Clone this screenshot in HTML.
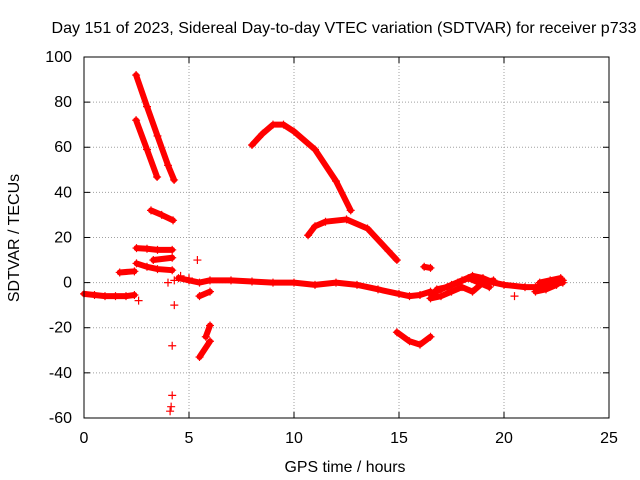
<!DOCTYPE html>
<html><head><meta charset="utf-8"><style>
html,body{margin:0;padding:0;background:#fff}
svg{display:block;font-family:"Liberation Sans",sans-serif}
</style></head><body>
<svg id="chart" width="640" height="480" viewBox="0 0 640 480">
<rect width="640" height="480" fill="#fff"/>
<text x="344" y="33" font-size="16" text-anchor="middle" textLength="585" lengthAdjust="spacingAndGlyphs" fill="#000">Day 151 of 2023, Sidereal Day-to-day VTEC variation (SDTVAR) for receiver p733</text>
<text x="345" y="472" font-size="16" text-anchor="middle" textLength="121" lengthAdjust="spacingAndGlyphs">GPS time / hours</text>
<text transform="translate(19,238) rotate(-90)" font-size="16" text-anchor="middle">SDTVAR / TECUs</text>
<g id="grid"></g>
<g id="ticks"></g>
<g id="marks"></g>
<rect x="84" y="57" width="525" height="361" fill="none" stroke="#000" stroke-width="1"/>
</svg>
<script>
const xTicks=[0,5,10,15,20,25];
const yTicks=[-60,-40,-20,0,20,40,60,80,100];
const tracks=[
[[0,-5],[0.5,-5.5],[1,-6],[1.5,-6],[2,-6],[2.4,-5.5]],
[[1.7,4.5],[2.4,5]],
[[2.48,92],[3,78],[3.5,65],[4,52],[4.29,45.5]],
[[2.48,72],[3,59],[3.48,46.8]],
[[3.19,32],[3.7,30],[4.24,27.6]],
[[2.5,15.3],[3,15],[3.5,14.5],[4.2,14.5]],
[[2.5,8.5],[3,7],[3.5,6],[4.2,5.5]],
[[3.3,10],[4.2,11]],
[[4.5,2],[5,1],[5.5,0],[6,1],[7,1],[8,0.5],[9,0],[10,0],[11,-1],[12,0],[13,-1],[14,-3],[15,-5],[15.5,-6],[16,-5.5],[16.5,-4]],
[[16.5,-5],[17,-3],[17.5,-1],[18,1],[18.5,3],[19,2],[19.5,0],[20,-1],[21,-2],[21.5,-2],[22,-1],[22.8,0]],
[[16.5,-7],[17,-6],[17.5,-4],[18,-2],[18.5,-4],[19,0],[19.5,1]],
[[16.8,-3],[17.3,-2],[17.8,0],[18.3,2],[18.8,0],[19.3,-2]],
[[21.5,-4],[22,-3],[22.5,-1],[22.8,1]],
[[21.7,0],[22.2,1],[22.7,2]],
[[8,61],[8.5,66],[9,70],[9.5,70],[10,67],[11,59],[12,45],[12.7,32]],
[[10.67,21],[11,25],[11.5,27],[12.5,28],[13.5,24],[14.5,14],[14.9,10]],
[[14.9,-22],[15.5,-26],[16,-27.5],[16.5,-24]],
[[16.2,7],[16.5,6.5]],
[[5.5,-33],[6,-26]],
[[5.8,-24],[6,-19]],
[[5.5,-6],[6,-4]]
];
const scatterT=[4.2,4.2,4.1,4.15,4.3,5.4,2.6,20.5,4,4.3,4.6,5];
const scatterV=[-28,-50,-57,-55,-10,10,-8,-6,0,1,3,2];
const X=t=>84+t*21, Y=v=>282.6-v*2.256;
const NS='http://www.w3.org/2000/svg';
const grid=document.getElementById('grid'),ticks=document.getElementById('ticks'),marks=document.getElementById('marks');
function mk(tag,attrs,parent){const e=document.createElementNS(NS,tag);for(const k in attrs)e.setAttribute(k,attrs[k]);parent.appendChild(e);return e;}
xTicks.forEach(t=>{
 if(t>0&&t<25){const g=mk('line',{x1:X(t),x2:X(t),y1:57,y2:418,stroke:'#a0a0a0','stroke-dasharray':'1,2'},grid);
 
 }
 mk('line',{x1:X(t),x2:X(t),y1:418,y2:412,stroke:'#000'},ticks);
 mk('line',{x1:X(t),x2:X(t),y1:57,y2:63,stroke:'#000'},ticks);
 const l=mk('text',{x:X(t),y:443,'font-size':16,'text-anchor':'middle'},ticks);l.textContent=t;
 
 
});
yTicks.forEach(v=>{
 if(v>-60&&v<100){const g=mk('line',{x1:84,x2:609,y1:Y(v),y2:Y(v),stroke:'#a0a0a0','stroke-dasharray':'1,2'},grid);
 
 }
 mk('line',{x1:84,x2:90,y1:Y(v),y2:Y(v),stroke:'#000'},ticks);
 mk('line',{x1:603,x2:609,y1:Y(v),y2:Y(v),stroke:'#000'},ticks);
 const l=mk('text',{x:72,y:Y(v)+5,'font-size':16,'text-anchor':'end'},ticks);l.textContent=v;
 
 
});
function plus(t,v){mk('path',{d:`M${X(t)-4},${Y(v)}h8M${X(t)},${Y(v)-4}v8`,stroke:'#f00','stroke-width':1.2},marks);}
tracks.forEach(tr=>{
 const p=mk('polyline',{points:tr.map(d=>X(d[0])+','+Y(d[1])).join(' '),fill:'none',stroke:'#f00','stroke-width':6,'stroke-linejoin':'round','stroke-linecap':'round'},marks);
 
 
 tr.forEach(d=>plus(d[0],d[1]));
});
scatterT.forEach((t,i)=>plus(t,scatterV[i]));
</script>
</body></html>
